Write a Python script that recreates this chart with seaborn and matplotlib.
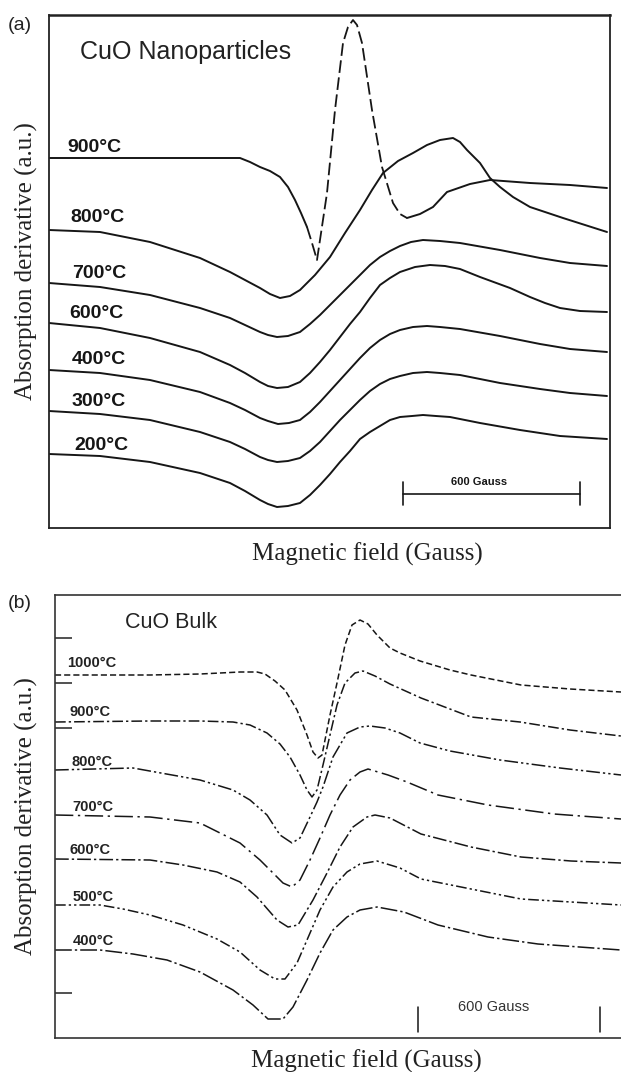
import numpy as np
import pandas as pd
import matplotlib
matplotlib.use("Agg")
import matplotlib.pyplot as plt
import seaborn as sns

# ---------------- DATA ----------------
# Panel (a): CuO nanoparticles, field (arb. units), derivative signal (a.u.)
a_temps = ["900°C", "800°C", "700°C", "600°C", "400°C", "300°C", "200°C"]

a900_x = [49, 150, 200, 240, 250, 260, 270, 280, 288, 295, 301, 307, 312, 317, 327, 335, 343, 348, 353, 357, 362, 372, 382, 393, 400, 407, 420, 433, 447, 470, 490, 530, 570, 607]
a900_y = [370, 370, 370, 370, 366, 361, 357, 351, 341, 328, 315, 301, 285, 268, 335, 418, 485, 501, 508, 503, 485, 418, 361, 325, 314, 310, 314, 321, 336, 344, 348, 345, 343, 340]

a800_x = [49, 100, 150, 200, 230, 245, 260, 270, 280, 290, 300, 315, 330, 345, 360, 372, 383, 398, 413, 427, 440, 453, 460, 467, 480, 490, 500, 513, 530, 563, 585, 607]
a800_y = [298, 296, 286, 270, 256, 248, 240, 234, 230, 232, 238, 253, 271, 295, 318, 338, 355, 367, 375, 383, 388, 390, 386, 378, 365, 350, 341, 331, 321, 310, 303, 296]

a700_x = [49, 100, 150, 200, 230, 245, 260, 268, 277, 288, 300, 310, 320, 330, 340, 350, 360, 370, 380, 390, 400, 411, 423, 440, 460, 500, 540, 570, 607]
a700_y = [245, 241, 233, 220, 210, 203, 196, 193, 191, 192, 196, 204, 213, 223, 233, 243, 253, 263, 271, 277, 282, 286, 288, 287, 285, 278, 270, 265, 262]

a600_x = [49, 100, 150, 200, 230, 245, 260, 268, 277, 288, 300, 310, 320, 330, 340, 350, 360, 370, 380, 390, 400, 415, 430, 445, 460, 480, 510, 530, 545, 560, 580, 607]
a600_y = [205, 200, 190, 176, 163, 155, 146, 142, 140, 141, 146, 155, 166, 178, 191, 204, 216, 230, 243, 250, 256, 261, 263, 262, 259, 251, 240, 231, 225, 220, 217, 216]

a400_x = [49, 100, 150, 200, 230, 245, 260, 268, 278, 289, 300, 310, 320, 330, 340, 350, 360, 370, 380, 390, 400, 413, 427, 440, 460, 500, 540, 570, 607]
a400_y = [158, 155, 148, 136, 125, 118, 110, 107, 104, 105, 108, 116, 126, 137, 148, 159, 170, 180, 188, 194, 198, 201, 202, 201, 199, 192, 184, 179, 176]

a300_x = [49, 100, 150, 200, 230, 245, 260, 268, 277, 288, 300, 310, 320, 330, 340, 350, 360, 370, 380, 390, 400, 413, 427, 440, 460, 500, 540, 570, 607]
a300_y = [117, 114, 108, 96, 86, 79, 71, 68, 66, 67, 70, 77, 86, 97, 108, 118, 128, 137, 144, 149, 152, 155, 156, 155, 153, 145, 139, 135, 132]

a200_x = [49, 100, 150, 200, 230, 245, 260, 268, 277, 288, 300, 310, 320, 330, 340, 350, 360, 370, 380, 390, 400, 412, 423, 436, 450, 480, 520, 560, 607]
a200_y = [74, 72, 66, 55, 45, 37, 28, 24, 21, 22, 25, 33, 43, 54, 66, 77, 89, 96, 102, 108, 111, 112, 113, 112, 111, 105, 98, 92, 89]

# Panel (b): CuO bulk
b_temps = ["1000°C", "900°C", "800°C", "700°C", "600°C", "500°C", "400°C"]

b1000_x = [55, 150, 200, 240, 257, 265, 275, 285, 297, 307, 313, 318, 322, 330, 337, 345, 352, 360, 368, 377, 390, 400, 420, 450, 471, 521, 570, 621]
b1000_y = [363, 363, 364, 366, 366, 364, 357, 348, 328, 303, 286, 280, 283, 323, 355, 393, 413, 418, 414, 403, 390, 385, 377, 368, 363, 353, 349, 346]

b900_x = [55, 150, 200, 233, 250, 267, 280, 290, 300, 307, 312, 317, 323, 330, 337, 345, 355, 363, 375, 390, 421, 471, 520, 570, 621]
b900_y = [316, 317, 317, 316, 313, 305, 294, 281, 263, 248, 241, 248, 273, 303, 333, 355, 365, 367, 362, 354, 340, 321, 316, 308, 302]

b800_x = [55, 133, 200, 233, 250, 267, 280, 292, 300, 310, 317, 323, 333, 347, 360, 370, 385, 400, 420, 450, 500, 560, 621]
b800_y = [268, 270, 258, 248, 238, 223, 203, 195, 200, 221, 236, 251, 281, 305, 311, 312, 310, 305, 295, 287, 278, 270, 263]

b700_x = [55, 150, 200, 240, 260, 283, 292, 300, 310, 320, 330, 340, 350, 360, 368, 388, 407, 438, 488, 554, 621]
b700_y = [223, 221, 215, 195, 178, 155, 151, 158, 178, 200, 223, 243, 258, 266, 269, 263, 256, 243, 233, 224, 219]

b600_x = [55, 150, 183, 217, 240, 257, 277, 288, 298, 313, 327, 340, 353, 367, 375, 390, 421, 471, 521, 571, 621]
b600_y = [179, 178, 173, 166, 156, 141, 118, 111, 113, 138, 165, 191, 211, 221, 223, 220, 204, 191, 181, 177, 175]

b500_x = [55, 100, 123, 150, 183, 217, 240, 260, 275, 285, 297, 307, 320, 333, 347, 360, 377, 400, 421, 471, 521, 571, 621]
b500_y = [133, 133, 129, 123, 113, 99, 86, 68, 59, 59, 75, 98, 128, 151, 166, 174, 177, 170, 159, 149, 139, 136, 133]

b400_x = [55, 100, 133, 167, 200, 233, 253, 268, 283, 293, 307, 320, 333, 347, 360, 377, 404, 438, 488, 538, 621]
b400_y = [88, 88, 84, 78, 66, 48, 33, 19, 19, 31, 58, 85, 108, 121, 128, 131, 126, 113, 101, 94, 88]

b_tick_values = [400, 355, 310, 45]

scale_text = "600 Gauss"

# ---------------- build tables ----------------
def frame(temps, xs, ys):
    rows = []
    for t, x, y in zip(temps, xs, ys):
        rows.append(pd.DataFrame({"field": x, "signal": y, "temp": t}))
    return pd.concat(rows, ignore_index=True)

df_a = frame(a_temps,
             [a900_x, a800_x, a700_x, a600_x, a400_x, a300_x, a200_x],
             [a900_y, a800_y, a700_y, a600_y, a400_y, a300_y, a200_y])
df_b = frame(b_temps,
             [b1000_x, b900_x, b800_x, b700_x, b600_x, b500_x, b400_x],
             [b1000_y, b900_y, b800_y, b700_y, b600_y, b500_y, b400_y])

# ---------------- style ----------------
sns.set_theme(style="white")
plt.rcParams["font.family"] = ["Liberation Sans", "DejaVu Sans"]
plt.rcParams["lines.solid_joinstyle"] = "round"
plt.rcParams["lines.dash_joinstyle"] = "round"
serif = ["Liberation Serif", "DejaVu Serif"]

W, H = 621, 1072
fig = plt.figure(figsize=(W / 100, H / 100), dpi=100)
fig.patch.set_facecolor("white")

ax_a = fig.add_axes([49 / W, 1 - 528 / H, (610 - 49) / W, (528 - 15) / H])
ax_b = fig.add_axes([55 / W, 1 - 1038 / H, (621 - 55) / W, (1038 - 595) / H])

ink = "#161616"

# ---- panel (a) ----
for t in a_temps:
    d = df_a[df_a["temp"] == t]
    if t == "900°C":
        left = d[d["field"] <= 307]
        mid = d[(d["field"] >= 307) & (d["field"] <= 407)]
        right = d[d["field"] >= 407]
        for part in (left, right):
            sns.lineplot(data=part, x="field", y="signal", ax=ax_a, sort=False,
                         estimator=None, color=ink, lw=1.4)
        sns.lineplot(data=mid, x="field", y="signal", ax=ax_a, sort=False,
                     estimator=None, color=ink, lw=1.3, linestyle=(0, (7, 2.5)))
    else:
        sns.lineplot(data=d, x="field", y="signal", ax=ax_a, sort=False,
                     estimator=None, color=ink, lw=1.4)

ax_a.set_xlim(49, 610)
ax_a.set_ylim(0, 513)
ax_a.set_xticks([])
ax_a.set_yticks([])
for s in ax_a.spines.values():
    s.set_visible(True)
    s.set_color("#222222")
    s.set_linewidth(1.3)
ax_a.spines["top"].set_linewidth(1.8)

a_label_pos = [(67, 381), (70, 310), (72, 255), (69, 215), (72, 169), (72, 127), (74, 83)]
for t, (x, y) in zip(a_temps, a_label_pos):
    ax_a.text(x, y, t, fontsize=14, fontweight="bold", color=ink, ha="left", va="center")
ax_a.text(80, 476, "CuO Nanoparticles", fontsize=18, color="#222222", ha="left", va="center")

# scale bar (a)
ax_a.plot([403, 580], [34, 34], color=ink, lw=1.2)
ax_a.plot([403, 403], [23, 46], color=ink, lw=1.2)
ax_a.plot([580, 580], [23, 46], color=ink, lw=1.2)
ax_a.text(479, 46, scale_text, fontsize=8, fontweight="bold", color=ink, ha="center", va="center")

ax_a.set_xlabel("Magnetic field (Gauss)", family=serif, fontsize=18, color="#222222")
ax_a.set_ylabel("Absorption derivative (a.u.)", family=serif, fontsize=18, color="#222222")
ax_a.xaxis.set_label_coords(0.567, -0.028)
ax_a.yaxis.set_label_coords(-0.020, 0.52)

# ---- panel (b) ----
b_styles = {
    "1000°C": (0, (4, 2)),
    "900°C": (0, (7, 2, 1.5, 2)),
    "800°C": (0, (9, 2, 1.5, 2, 1.5, 2)),
    "700°C": (0, (12, 3, 1.5, 3)),
    "600°C": (0, (9, 2, 1.5, 2)),
    "500°C": (0, (7, 2, 1.5, 2, 1.5, 2)),
    "400°C": (0, (11, 2, 1.5, 2)),
}
for t in b_temps:
    d = df_b[df_b["temp"] == t]
    sns.lineplot(data=d, x="field", y="signal", ax=ax_b, sort=False,
                 estimator=None, color=ink, lw=1.1, linestyle=b_styles[t])

ax_b.set_xlim(55, 621)
ax_b.set_ylim(0, 443)
ax_b.set_xticks([])
ax_b.set_yticks(b_tick_values)
ax_b.tick_params(axis="y", direction="in", length=12, width=1.1, color="#222222",
                 left=True, labelleft=False)
for name, s in ax_b.spines.items():
    s.set_color("#333333")
    s.set_linewidth(1.2)
ax_b.spines["right"].set_visible(False)

b_label_pos = [(67, 375), (70, 326), (72, 276), (72, 231), (70, 188), (73, 141), (73, 97)]
for t, (x, y) in zip(b_temps, b_label_pos):
    ax_b.text(x, y, t, fontsize=10.5, fontweight="bold", color="#222222", ha="left", va="center")
ax_b.text(125, 415, "CuO Bulk", fontsize=15.5, color="#222222", ha="left", va="center")

# scale bar (b)
ax_b.plot([418, 418], [6, 31], color=ink, lw=1.1)
ax_b.plot([600, 600], [6, 31], color=ink, lw=1.1)
ax_b.text(494, 31, scale_text, fontsize=10.5, color="#333333", ha="center", va="center")

ax_b.set_xlabel("Magnetic field (Gauss)", family=serif, fontsize=18, color="#222222")
ax_b.set_ylabel("Absorption derivative (a.u.)", family=serif, fontsize=18, color="#222222")
ax_b.xaxis.set_label_coords(0.551, -0.026)
ax_b.yaxis.set_label_coords(-0.030, 0.50)

fig.text(8 / W, 1 - 25 / H, "(a)", fontsize=14, color="#222222", ha="left", va="center")
fig.text(8 / W, 1 - 603 / H, "(b)", fontsize=14, color="#222222", ha="left", va="center")

fig.savefig("out.png", dpi=100, facecolor="white")
